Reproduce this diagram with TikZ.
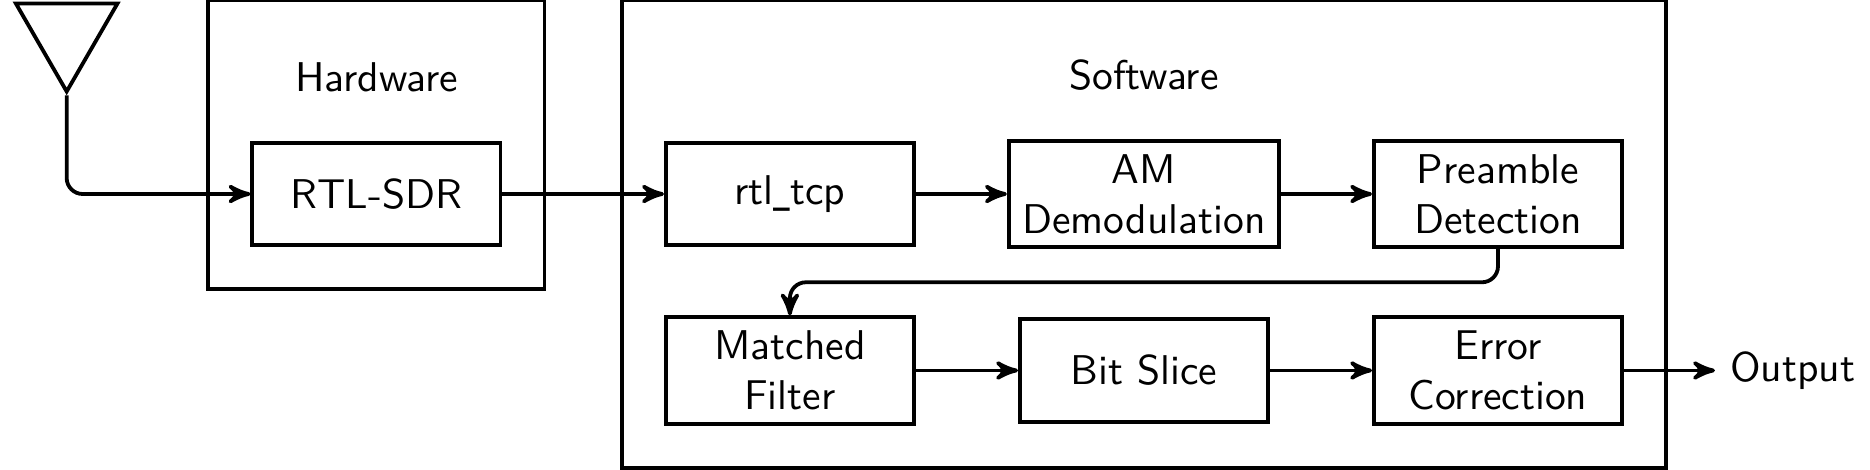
\documentclass[tikz,border=0pt]{standalone}
\usepackage{tikz}
\usetikzlibrary{positioning,calc,fit,arrows,shapes.geometric}

\begin{document}
\begin{tikzpicture}[every node/.style={font=\fontsize{10.4}{12.6}\sffamily\selectfont},
    node distance=0.8cm,
    line width=0.95pt,
    block/.style={draw,align=center,minimum width=2.18cm,minimum height=0.9cm},
    group/.style={draw,inner sep=0.37cm},
    conn/.style={-stealth'}]

    \useasboundingbox (-3.308,1.705) rectangle (13.125,-2.417);

    % Top row
    \node[block] (rtl) at (0,0) {RTL-SDR};
    \node[block,right=1.42cm of rtl] (tcp) {rtl\scalebox{0.6}[1]{\_}tcp};
    \node[block,right=of tcp] (am) {AM\\Demodulation};
    \node[block,right=of am] (preamble) {Preamble\\Detection};

    % Bottom row
    \node[block,below=0.6cm of tcp] (matched) {Matched\\Filter};
    \node[block] (slice) at (am |- matched) {Bit Slice};
    \node[block] (error) at (preamble |- matched) {Error\\Correction};
    \node[right=0.8cm of error] (output) {Output};

    % Antenna
    \node[draw,regular polygon,regular polygon sides=3,shape border rotate=180,
        minimum size=1.03cm] (antenna) at (-2.722,1.416) {};

    % Enclosing boxes
    \node[above=0.3cm of rtl] (hwlabel) {Hardware};
    \node[above=0.29cm of am] (swlabel) {Software};
    \coordinate (hwtop) at ($(rtl.north)+(0,0.87)$);
    \coordinate (swtop) at ($(tcp.north)+(0,0.87)$);
    \node[group,fit=(rtl)(hwtop)] (hardware) {};
    \node[group,fit=(tcp)(preamble)(error)(swtop)] (software) {};

    \coordinate (turn) at ($(preamble.south)!0.5!(error.north)$);

    \draw[conn,rounded corners] (antenna.south) |- (rtl);
    \draw[conn] (rtl) -- (tcp);
    \draw[conn] (tcp) -- (am);
    \draw[conn] (am) -- (preamble);
    \draw[conn,rounded corners] (preamble.south) -- (turn) -| (matched.north);
    \draw[conn] (matched) -- (slice);
    \draw[conn] (slice) -- (error);
    \draw[conn] (error) -- (output);

\end{tikzpicture}
\end{document}
